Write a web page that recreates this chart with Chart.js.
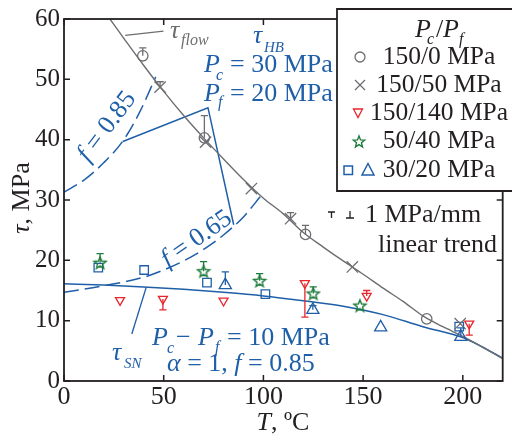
<!DOCTYPE html>
<html><head><meta charset="utf-8">
<script src="https://cdn.jsdelivr.net/npm/chart.js@4/dist/chart.umd.min.js"></script>
<style>html,body{margin:0;padding:0;background:#fff;}canvas{display:block;}</style>
</head><body>
<canvas id="c" width="512" height="434"></canvas>
<script>
// ---------- data ----------
const xTicks = [0, 50, 100, 150, 200];
const yTicks = [0, 10, 20, 30, 40, 50, 60];

// model curves
const flowT = [23, 30, 40, 50, 60, 70, 80, 90, 100, 110, 120, 130, 140, 150, 160, 170, 180, 190, 200, 210, 220];
const flowV = [60, 56.8, 52.3, 48.0, 44.0, 40.3, 36.8, 33.4, 30.3, 27.7, 24.6, 22.2, 19.9, 17.7, 15.4, 13.2, 10.8, 9.0, 7.4, 5.6, 3.7];
const snT = [0, 20, 40, 60, 80, 100, 120, 140, 160, 180, 200, 210, 220];
const snV = [16.1, 15.9, 15.6, 15.2, 14.7, 14.1, 13.3, 12.4, 11.0, 9.0, 7.2, 5.6, 3.8];
const f85T = [0, 10, 20, 30, 38, 46];
const f85V = [31.3, 33.3, 36.2, 40.0, 44.6, 50.4];
const f65T = [0, 20, 40, 50, 60, 70, 80, 90, 99];
const f65V = [14.7, 15.8, 17.2, 18.4, 19.9, 21.8, 24.2, 27.2, 30.8];
const hbT = [29.5, 72.2, 85.1];
const hbV = [39.7, 45.3, 25.9];
const flowLeadT = [30.7, 49.9];
const flowLeadV = [57.3, 58.0];
const snLeadT = [34, 41.2];
const snLeadV = [7.8, 15.5];

// experiments  (T, tau, error-bar end)
const p150_0_T = [39.5, 70.4, 121.1, 181.9];
const p150_0_V = [53.9, 40.3, 24.3, 10.3];
const p150_0_E = [55.2, 44.0, 25.8, null];
const p150_50_T = [48.2, 71, 94, 113.6, 144.6, 198.7];
const p150_50_V = [48.7, 39.6, 31.9, 26.9, 18.9, 9.5];
const p150_50_E = [49.6, null, null, 27.9, null, null];
const p150_140_T = [28.1, 49.6, 80, 120.8, 151.8, 203.2];
const p150_140_V = [13.4, 13.6, 13.3, 16.2, 14.1, 9.5];
const p150_140_E = [null, 11.8, null, 10.6, 15.0, 7.6];
const p50_40_T = [18.1, 70, 98.1, 125, 148.4];
const p50_40_V = [19.6, 18.2, 16.6, 14.5, 12.5];
const p50_40_E = [21.1, 19.8, 17.8, 15.6, null];
const p30_20sq_T = [17.2, 40.2, 71.7, 101, 198.2];
const p30_20sq_V = [18.8, 18.4, 16.3, 14.4, 9.0];
const p30_20tr_T = [80.9, 124.8, 158.8, 199];
const p30_20tr_V = [15.9, 11.8, 8.9, 7.3];
const p30_20tr_E = [18.1, 12.5, null, 8.8];

const legendLabels = ['150/0 MPa', '150/50 MPa', '150/140 MPa', '50/40 MPa', '30/20 MPa'];

// ---------- style ----------
const GRAY = '#6d6e71', RED = '#e8262d', GREEN = '#1e7b3c', BLUE = '#1f5fa8', BLACK = '#231f20';
const SERIF = '"Liberation Serif", "Times New Roman", serif';
const NONE = 'rgba(0,0,0,0)';

const pts = (T, V) => T.map((t, i) => ({x: t, y: V[i]}));

function starPath(ctx, cx, cy, R, r) {
  ctx.beginPath();
  for (let k = 0; k < 10; k++) {
    const a = -Math.PI / 2 + k * Math.PI / 5;
    const rad = k % 2 ? r : R;
    const px = cx + rad * Math.cos(a), py = cy + rad * Math.sin(a);
    k ? ctx.lineTo(px, py) : ctx.moveTo(px, py);
  }
  ctx.closePath();
}
const starImg = document.createElement('canvas');
starImg.width = 16; starImg.height = 16;
(function () { const g = starImg.getContext('2d'); g.strokeStyle = GREEN; g.lineWidth = 1.4; starPath(g, 8, 8.5, 6.3, 2.7); g.stroke(); })();

function markerDs(T, V, E, style, color, radius, extra) {
  return Object.assign({
    data: pts(T, V), errEnd: E, showLine: false,
    pointStyle: style, pointRadius: radius, pointBorderColor: color, borderColor: color,
    pointBackgroundColor: NONE, backgroundColor: NONE, pointBorderWidth: 1.3
  }, extra || {});
}
function lineDs(T, V, color, width, dash, tension) {
  return {
    data: pts(T, V), showLine: true, pointRadius: 0, borderColor: color, borderWidth: width,
    borderDash: dash || [], cubicInterpolationMode: tension ? 'monotone' : 'default', tension: 0,
    backgroundColor: NONE, fill: false
  };
}

const datasets = [
  markerDs(p150_0_T, p150_0_V, p150_0_E, 'circle', GRAY, 5.2),
  markerDs(p150_50_T, p150_50_V, p150_50_E, 'crossRot', GRAY, 8),
  markerDs(p150_140_T, p150_140_V, p150_140_E, 'triangle', RED, 5.2, {pointRotation: 180}),
  markerDs(p50_40_T, p50_40_V, p50_40_E, starImg, GREEN, 6),
  markerDs(p30_20sq_T, p30_20sq_V, null, 'rect', BLUE, 6),
  markerDs(p30_20tr_T, p30_20tr_V, p30_20tr_E, 'triangle', BLUE, 7),
  lineDs(flowT, flowV, GRAY, 1.4, null, true),
  lineDs(snT, snV, BLUE, 1.5, null, true),
  lineDs(f85T, f85V, BLUE, 1.5, [15, 6], true),
  lineDs(f65T, f65V, BLUE, 1.5, [15, 6], true),
  lineDs(hbT, hbV, BLUE, 1.5, null, false),
  lineDs(flowLeadT, flowLeadV, GRAY, 1.2, null, false),
  lineDs(snLeadT, snLeadV, BLUE, 1.3, null, false)
];

// ---------- plugins ----------
const errPlugin = {
  id: 'err',
  afterDatasetsDraw(chart) {
    const {ctx} = chart, x = chart.scales.x, y = chart.scales.y;
    chart.data.datasets.forEach(ds => {
      if (!ds.errEnd) return;
      ctx.save();
      ctx.strokeStyle = ds.pointBorderColor; ctx.lineWidth = 1.3;
      ds.data.forEach((p, i) => {
        const e = ds.errEnd[i]; if (e == null) return;
        const px = x.getPixelForValue(p.x), p0 = y.getPixelForValue(p.y), p1 = y.getPixelForValue(e);
        ctx.beginPath(); ctx.moveTo(px, p0); ctx.lineTo(px, p1);
        ctx.moveTo(px - 3.6, p1); ctx.lineTo(px + 3.6, p1); ctx.stroke();
      });
      ctx.restore();
    });
  }
};

function runs(ctx, x, y, list, color) {
  ctx.fillStyle = color; ctx.textAlign = 'left'; ctx.textBaseline = 'alphabetic';
  let cx = x;
  for (const r of list) {
    ctx.font = (r.i ? 'italic ' : '') + (r.s || 26) + 'px ' + SERIF;
    ctx.fillText(r.t, cx, y + (r.dy || 0));
    cx += ctx.measureText(r.t).width;
  }
  return cx;
}
function runsWidth(ctx, list) {
  let w = 0;
  for (const r of list) { ctx.font = (r.i ? 'italic ' : '') + (r.s || 26) + 'px ' + SERIF; w += ctx.measureText(r.t).width; }
  return w;
}
function txt(ctx, s, x, y, color, opt) {
  opt = opt || {};
  ctx.font = (opt.i ? 'italic ' : '') + (opt.s || 26) + 'px ' + SERIF;
  ctx.fillStyle = color; ctx.textAlign = opt.align || 'left'; ctx.textBaseline = 'alphabetic';
  ctx.fillText(s, x, y);
}

const framePlugin = {
  id: 'frame',
  afterDraw(chart) {
    const {ctx, chartArea: a} = chart, x = chart.scales.x, y = chart.scales.y;
    ctx.save();
    ctx.strokeStyle = BLACK; ctx.lineWidth = 1.8;
    ctx.strokeRect(a.left, a.top, a.right - a.left, a.bottom - a.top);
    ctx.lineWidth = 1.5;
    ctx.beginPath();
    xTicks.forEach(v => { const p = x.getPixelForValue(v);
      ctx.moveTo(p, a.bottom); ctx.lineTo(p, a.bottom - 6); ctx.moveTo(p, a.top); ctx.lineTo(p, a.top + 6); });
    yTicks.forEach(v => { const p = y.getPixelForValue(v);
      ctx.moveTo(a.left, p); ctx.lineTo(a.left + 6, p); ctx.moveTo(a.right, p); ctx.lineTo(a.right - 6, p); });
    ctx.stroke();

    // axis titles
    ctx.save();
    ctx.translate(28.5, 198); ctx.rotate(-Math.PI / 2);
    const yt = [{t: 'τ', i: true}, {t: ', MPa'}];
    runs(ctx, -runsWidth(ctx, yt) / 2, 0, yt, BLACK);
    ctx.restore();
    const xt = [{t: 'T', i: true}, {t: ', ºC'}];
    runs(ctx, 283 - runsWidth(ctx, xt) / 2, 430, xt, BLACK);

    // annotations
    runs(ctx, 170, 38, [{t: 'τ', i: true}], GRAY); txt(ctx, 'flow', 181, 45, GRAY, {i: true, s: 16});
    runs(ctx, 253, 43, [{t: 'τ', i: true}], BLUE); txt(ctx, 'HB', 264, 52, BLUE, {i: true, s: 15});
    txt(ctx, 'P', 204, 72, BLUE, {i: true}); txt(ctx, 'c', 216, 80, BLUE, {i: true, s: 16}); txt(ctx, '= 30 MPa', 230, 72, BLUE);
    txt(ctx, 'P', 204, 101, BLUE, {i: true}); txt(ctx, 'f', 218, 107, BLUE, {i: true, s: 16}); txt(ctx, '= 20 MPa', 230, 101, BLUE);

    const rot = (cx, cy, deg, list) => {
      ctx.save(); ctx.translate(cx, cy); ctx.rotate(deg * Math.PI / 180);
      runs(ctx, -runsWidth(ctx, list) / 2, 8, list, BLUE); ctx.restore();
    };
    rot(106, 126, -53, [{t: 'f', i: true}, {t: ' = 0.85'}]);
    rot(196, 238, -35, [{t: 'f', i: true}, {t: ' = 0.65'}]);

    runs(ctx, 112, 360, [{t: 'τ', i: true}], BLUE); txt(ctx, 'SN', 124, 368, BLUE, {i: true, s: 15});
    txt(ctx, 'P', 152, 345, BLUE, {i: true}); txt(ctx, 'c', 167, 353, BLUE, {i: true, s: 16});
    txt(ctx, '−', 176, 345, BLUE);
    txt(ctx, 'P', 198, 345, BLUE, {i: true}); txt(ctx, 'f', 215, 352, BLUE, {i: true, s: 16});
    txt(ctx, '= 10 MPa', 227, 345, BLUE);
    runs(ctx, 167, 371, [{t: 'α', i: true}, {t: ' = 1, '}, {t: 'f', i: true}, {t: ' = 0.85'}], BLUE);

    // error bar key
    ctx.strokeStyle = BLACK; ctx.lineWidth = 1.3; ctx.beginPath();
    ctx.moveTo(328, 212); ctx.lineTo(335, 212); ctx.moveTo(331.5, 212); ctx.lineTo(331.5, 218);
    ctx.moveTo(350, 211); ctx.lineTo(350, 218); ctx.moveTo(346, 218); ctx.lineTo(354, 218);
    ctx.stroke();
    txt(ctx, '1 MPa/mm', 365, 222, BLACK);
    txt(ctx, 'linear trend', 378, 252, BLACK);

    // legend
    ctx.fillStyle = '#fff'; ctx.fillRect(337, 9, 180, 182);
    ctx.strokeStyle = BLACK; ctx.lineWidth = 1.8; ctx.beginPath();
    ctx.moveTo(515, 9); ctx.lineTo(337, 9); ctx.lineTo(337, 191); ctx.lineTo(515, 191); ctx.stroke();
    txt(ctx, 'P', 415, 37, BLACK, {i: true}); txt(ctx, 'c', 427, 44, BLACK, {i: true, s: 16});
    txt(ctx, '/', 436, 37, BLACK); txt(ctx, 'P', 443, 37, BLACK, {i: true}); txt(ctx, 'f', 459, 44, BLACK, {i: true, s: 16});
    const ly = [64, 92, 120, 148, 177];
    legendLabels.forEach((s, i) => txt(ctx, s, 439, ly[i], BLACK, {s: 25.5, align: 'center'}));
    ctx.lineWidth = 1.3;
    ctx.strokeStyle = GRAY; ctx.beginPath(); ctx.arc(360, 57, 5, 0, 2 * Math.PI); ctx.stroke();
    ctx.beginPath(); ctx.moveTo(355, 80); ctx.lineTo(365, 90); ctx.moveTo(365, 80); ctx.lineTo(355, 90); ctx.stroke();
    ctx.strokeStyle = RED; ctx.beginPath(); ctx.moveTo(353.5, 109); ctx.lineTo(362.5, 109); ctx.lineTo(358, 117.5); ctx.closePath(); ctx.stroke();
    ctx.strokeStyle = GREEN; ctx.lineWidth = 1.4; starPath(ctx, 359, 142, 6, 2.6); ctx.stroke();
    ctx.strokeStyle = BLUE; ctx.lineWidth = 1.5; ctx.strokeRect(344, 166, 8.5, 8.5);
    ctx.beginPath(); ctx.moveTo(368, 163.5); ctx.lineTo(374, 175); ctx.lineTo(362, 175); ctx.closePath(); ctx.stroke();
    ctx.restore();
  }
};

const tickFont = {family: SERIF, size: 25};
new Chart(document.getElementById('c'), {
  type: 'scatter',
  data: {datasets},
  options: {
    responsive: false, animation: false, events: [],
    layout: {padding: {left: 0, right: 9, top: 16, bottom: 0}},
    plugins: {legend: {display: false}, tooltip: {enabled: false}},
    scales: {
      x: {
        type: 'linear', min: 0, max: 220,
        afterFit: s => { s.height = 53; },
        afterBuildTicks: s => { s.ticks = xTicks.map(v => ({value: v})); },
        ticks: {font: {family: SERIF, size: 26}, color: BLACK, padding: 1, maxRotation: 0, autoSkip: false},
        grid: {display: false, drawTicks: false}, border: {display: false}
      },
      y: {
        type: 'linear', min: 0, max: 60,
        afterFit: s => { s.width = 64; },
        afterBuildTicks: s => { s.ticks = yTicks.map(v => ({value: v})); },
        ticks: {font: tickFont, color: BLACK, padding: 4, autoSkip: false},
        grid: {display: false, drawTicks: false}, border: {display: false}
      }
    }
  },
  plugins: [errPlugin, framePlugin]
});
</script>
</body></html>
